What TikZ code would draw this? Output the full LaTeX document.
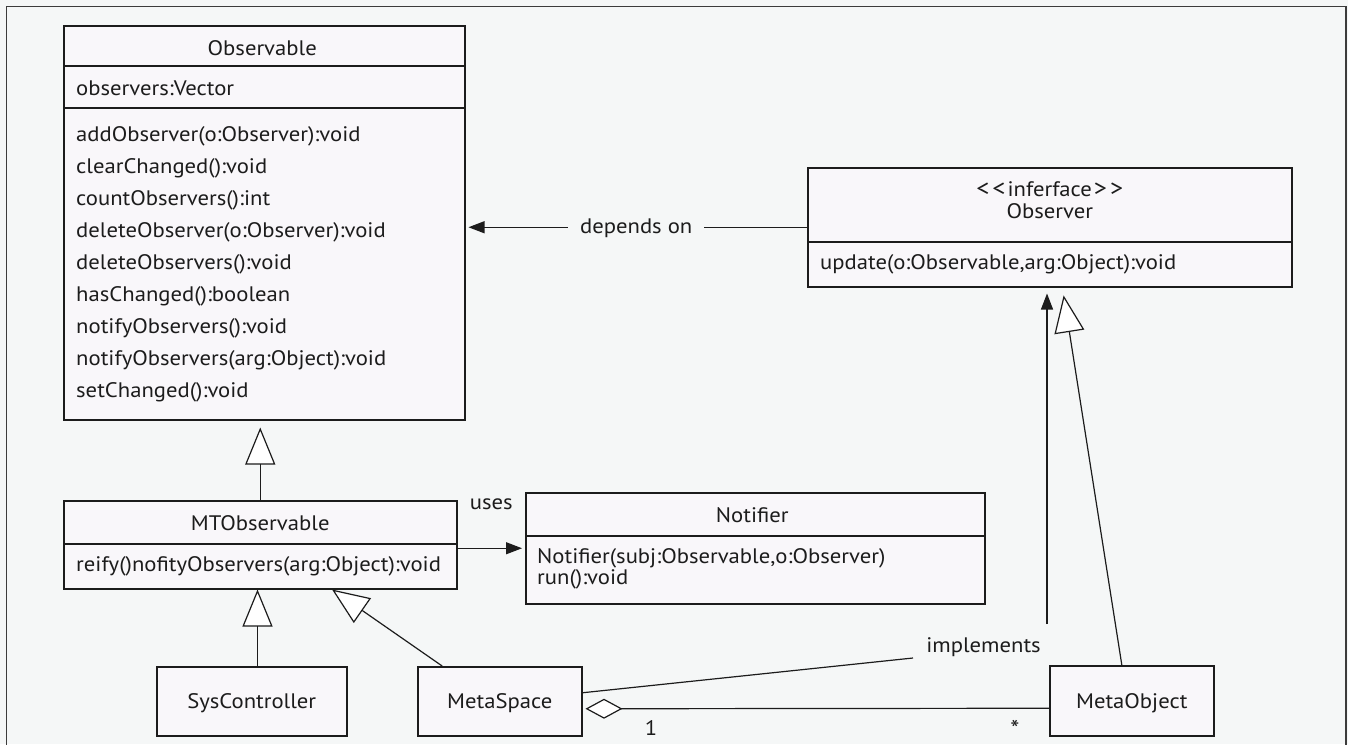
\documentclass[tikz,border=0pt]{standalone}
\usepackage{fontspec}
\setmainfont{PT Sans}[FakeStretch=1.08]
\usetikzlibrary{arrows.meta,calc}
\definecolor{bg}{RGB}{245,247,247}
\definecolor{boxfill}{RGB}{249,247,250}
\definecolor{ink}{RGB}{28,28,28}
\definecolor{framecol}{RGB}{60,60,60}
\begin{document}
\begin{tikzpicture}[x=1pt,y=-1pt,
  umlfont/.style={font=\fontsize{21}{25}\selectfont},
  box/.style={draw=ink, fill=boxfill, line width=1.5pt, inner sep=0pt,
              anchor=north west, umlfont, text=ink},
  sbox/.style={box, text height=15pt, text depth=0pt},
  sepline/.style={draw=ink, line width=1.5pt},
  txt/.style={anchor=base west, inner sep=0pt, umlfont, text=ink},
  ctxt/.style={anchor=base, inner sep=0pt, umlfont, text=ink},
  link/.style={draw=ink, line width=1.2pt},
  gen/.style={link, -{Triangle[length=37pt,width=30pt,fill=white]}},
  dep/.style={link, -{Triangle[length=16pt,width=12pt]}},
  agg/.style={link, {Diamond[length=37pt,width=20pt,fill=white]}-},
]
\useasboundingbox (0,0) rectangle (1348,744);
\clip (0,0) rectangle (1348,744);
\fill[bg] (0,0) rectangle (1348,744);
% outer frame, open at the bottom edge
\draw[framecol, line width=1.8pt] (6.5,760) -- (6.5,6.5) -- (1346,6.5) -- (1346,760);

% ---------- Observable ----------
\node[box, minimum width=401pt, minimum height=394pt] (observable) at (63,25) {};
\draw[sepline] ($(observable.north west)+(0,41)$) -- ($(observable.north east)+(0,41)$);
\draw[sepline] ($(observable.north west)+(0,83)$) -- ($(observable.north east)+(0,83)$);
\node[ctxt] (observableTitle) at ($(observable.north)+(-2,30)$) {Observable};
\node[txt] (observableAttr) at ($(observable.north west)+(13,70.5)$) {observers:Vector};
\foreach [count=\i from 0] \t in {{addObserver(o:Observer):void},{clearChanged():void},
    {countObservers():int},{deleteObserver(o:Observer):void},{deleteObservers():void},
    {hasChanged():boolean},{notifyObservers():void},{notifyObservers(arg:Object):void},
    {setChanged():void}}
  \node[txt] (observableOp\i) at ($(observable.north west)+(13,116.5+32*\i)$) {\t};

% ---------- Observer interface ----------
\node[box, minimum width=484pt, minimum height=119pt] (observer) at (807,167) {};
\draw[sepline] ($(observer.north west)+(0,75)$) -- ($(observer.north east)+(0,75)$);
\node[ctxt] (observerStereo) at ($(observer.north)+(0,29.7)$)
  {{\fontsize{24}{25}\selectfont<\kern3pt<}\kern2pt inferface\kern2pt{\fontsize{24}{25}\selectfont>\kern3pt>}};
\node[ctxt] (observerTitle) at ($(observer.north)+(0,51)$) {Observer};
\node[txt] (observerOp) at ($(observer.north west)+(13,102)$) {update(o:Observable,arg:Object):void};

% ---------- MTObservable ----------
\node[box, minimum width=393pt, minimum height=88pt] (mto) at (63,500) {};
\draw[sepline] ($(mto.north west)+(0,44)$) -- ($(mto.north east)+(0,44)$);
\node[ctxt] (mtoTitle) at ($(mto.north)+(0,30.5)$) {MTObservable};
\node[txt] (mtoOp) at ($(mto.north west)+(13,71.5)$) {reify()nofityObservers(arg:Object):void};

% ---------- Notifier ----------
\node[box, minimum width=459pt, minimum height=111pt] (notifier) at (525,492) {};
\draw[sepline] ($(notifier.north west)+(0,44)$) -- ($(notifier.north east)+(0,44)$);
\node[ctxt] (notifierTitle) at ($(notifier.north)+(-3,30.5)$) {Notifier};
\node[txt] (notifierOp1) at ($(notifier.north west)+(12,71)$) {Notifier(subj:Observable,o:Observer)};
\node[txt] (notifierOp2) at ($(notifier.north west)+(12,92)$) {run():void};

% ---------- leaf classes ----------
\node[sbox, minimum width=190pt, minimum height=69pt] (sysc) at (156,666) {SysController};
\node[sbox, minimum width=164pt, minimum height=69pt] (metaspace) at (417,666) {MetaSpace};
\node[sbox, minimum width=164pt, minimum height=70pt] (metaobject) at (1049,665) {MetaObject};

% ---------- relations ----------
% dependency of Observer on Observable
\draw[dep, shorten >=3pt] (observer.west) --
  node[ctxt, anchor=center, fill=bg, inner xsep=12pt, inner ysep=2pt, yshift=-1pt] (dependsLabel) {depends on}
  (observable.east |- observer.west);

% MTObservable uses Notifier
\draw[dep, shorten >=3pt] (notifier.west -| mto.east) --
  node[ctxt, yshift=38.5pt] (usesLabel) {uses} (notifier.west);

% generalisations
\coordinate (mtoTop) at ($(mto.north west)!0.5!(mto.north east)$);
\draw[gen, shorten >=7pt] (mtoTop) -- (mtoTop |- observable.south);
\coordinate (syscTop) at ($(sysc.north west)!0.53!(sysc.north east)$);
\draw[gen] (syscTop) -- (syscTop |- mto.south);
\draw[gen] ($(metaspace.north west)!0.152!(metaspace.north east)$) --
  ($(mto.south west)!0.682!(mto.south east)$);
\draw[gen, shorten >=8pt] ($(metaobject.north west)!0.44!(metaobject.north east)$) --
  ($(observer.south west)!0.526!(observer.south east)$);

% MetaSpace implements Observer
\node[ctxt] (implLabel) at (983.5,652) {implements};
\coordinate (implA) at ($(implLabel.base)+(-70.5,6)$);
\coordinate (implB) at ($(implLabel.base)+(63.5,-28)$);
\draw[link] ($(metaspace.east)+(0,-8.5)$) -- (implA);
\draw[dep, shorten >=6pt] (implB) -- (implB |- observer.south);

% aggregation MetaSpace <>-- MetaObject
\draw[agg] ($(metaspace.east)+(3,7.5)$) -- ($(metaobject.west)+(0,7.5)$);
\node[ctxt] (multOne) at (651,735) {1};
\node[ctxt, anchor=center, font=\fontsize{24}{25}\selectfont] (multMany) at (1015,729) {*};
\end{tikzpicture}
\end{document}
